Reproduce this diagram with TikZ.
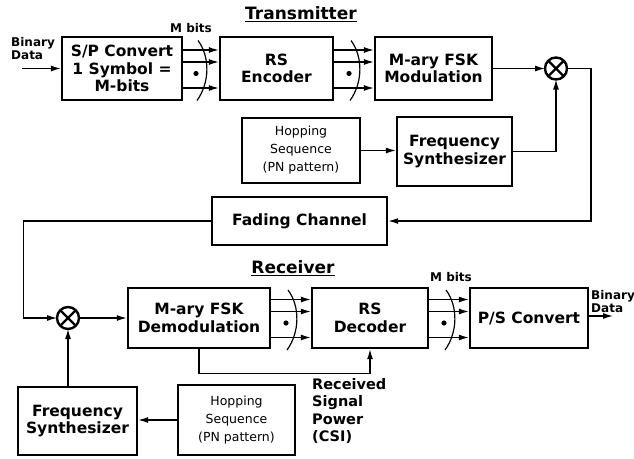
\documentclass[tikz,border=0pt]{standalone}
\usepackage{fontspec}
\setmainfont{DejaVu Sans}
\usetikzlibrary{calc,arrows.meta}

\begin{document}
\begin{tikzpicture}[x=1pt,y=-1pt,>={Latex[length=10pt,width=6pt]},
  blk/.style={draw, line width=2.4pt, align=center, inner sep=0pt, font=\bfseries\fontsize{15.5}{17.5}\selectfont},
  small/.style={font=\fontsize{12.5}{18}\selectfont},
  lbl/.style={align=left, inner sep=0pt, font=\bfseries\fontsize{12}{13.5}\selectfont},
  heading/.style={inner sep=0pt, font=\bfseries\fontsize{17}{20}\selectfont},
  mult/.style={draw, circle, line width=2.4pt, minimum size=22pt, inner sep=0pt, outer sep=0pt},
  wire/.style={line width=1.2pt}]
\useasboundingbox (0,0) rectangle (634,458);
% transmitter
\node[heading] (txt) at (301,14) {\underline{Transmitter}};
\node[blk, minimum width=120pt, minimum height=63pt] (sp) at (122,68.5) {S/P Convert\\1 Symbol =\\M-bits};
\node[blk, minimum width=113pt, minimum height=63pt] (enc) at (276.5,68.5) {RS\\Encoder};
\node[blk, minimum width=117pt, minimum height=63pt] (mod) at (433.5,68.5) {M-ary FSK\\Modulation};
\node[mult] (ox1) at (556,68.5) {};
\draw[line width=2.4pt] (ox1.north east) -- (ox1.south west) (ox1.north west) -- (ox1.south east);
\node[blk, small, minimum width=118pt, minimum height=65pt] (hop1) at (301,150.5) {Hopping\\Sequence\\(PN pattern)};
\node[blk, minimum width=115pt, minimum height=69pt] (syn1) at (454.5,151.5) {Frequency\\Synthesizer};
\node[blk, minimum width=175pt, minimum height=48pt] (fade) at (299.5,221) {Fading Channel};
% receiver
\node[heading] (rxt) at (293,268) {\underline{Receiver}};
\node[mult] (ox2) at (68,318) {};
\draw[line width=2.4pt] (ox2.north east) -- (ox2.south west) (ox2.north west) -- (ox2.south east);
\node[blk, minimum width=142pt, minimum height=60pt] (dem) at (199,318) {M-ary FSK\\Demodulation};
\node[blk, minimum width=116pt, minimum height=60pt] (dec) at (370,318) {RS\\Decoder};
\node[blk, minimum width=118pt, minimum height=60pt] (ps) at (529,318) {P/S Convert};
\node[blk, minimum width=119pt, minimum height=68pt] (syn2) at (77.5,421) {Frequency\\Synthesizer};
\node[blk, small, minimum width=117pt, minimum height=70pt] (hop2) at (236.5,420) {Hopping\\Sequence\\(PN pattern)};
% labels
\node[lbl, anchor=north west] (bin1) at (11,37) {Binary\\Data};
\node[lbl, anchor=north west] (bin2) at (591,290) {Binary\\Data};
\node[lbl] (mb1) at (191,28) {M bits};
\node[lbl] (mb2) at (451,277) {M bits};
\node[anchor=north west, align=left, inner sep=0pt, font=\bfseries\fontsize{14.5}{17.5}\selectfont] (csi) at (312,378) {Received\\Signal\\Power\\(CSI)};
\coordinate (in) at (22,68.5);
\coordinate (out) at (613,316);
% buses
\foreach \a/\b in {sp/enc,enc/mod,dem/dec,dec/ps}{
  \foreach \dy in {18.5,6.5,-19.5}
    \draw[wire,->] ([yshift=\dy pt]\a.east) -- ([yshift=\dy pt]\b.west);
  \coordinate (m) at ($(\a.east)!0.5!(\b.west)$);
  \fill ($(m)+(-5,5)$) circle (2.6pt);
  \draw[wire] ($(m)+(-3,-28)$) .. controls ($(m)+(9,-12)$) and ($(m)+(9,14)$) .. ($(m)+(-4,32)$);
}
% connectors
\draw[wire,->] (in) -- (sp.west);
\draw[wire,->] (mod.east) -- (ox1.west);
\draw[wire,->] (hop1.east) -- (hop1.east -| syn1.west);
\draw[wire,->] (syn1.east) -| (ox1.south);
\draw[wire,->] (ox1.east) -- ++(24,0) |- (fade.east);
\draw[wire,->] (fade.west) -- ++(-187,0) |- (ox2.west);
\draw[wire,->] (ox2.east) -- (dem.west);
\draw[wire,->] (ox2.south |- syn2.north) -- (ox2.south);
\draw[wire,->] (hop2.west) -- (hop2.west -| syn2.east);
\draw[wire,->] (dem.south) -- ++(0,24) -| (dec.south);
\draw[wire,->] (ps.east |- out) -- (out);
\end{tikzpicture}
\end{document}
